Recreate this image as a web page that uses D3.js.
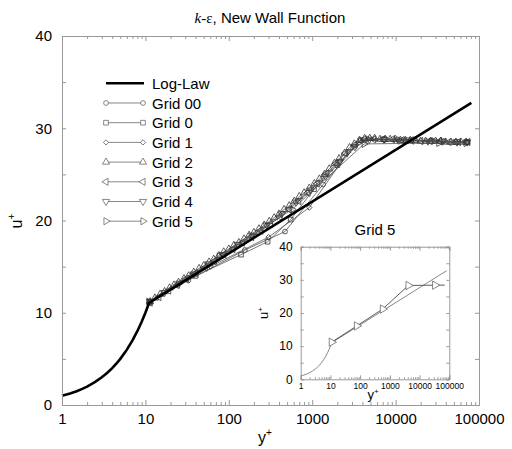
<!doctype html>
<html>
<head>
<meta charset="utf-8">
<title>k-e, New Wall Function</title>
<script src="https://d3js.org/d3.v7.min.js"></script>
<style>
  body { margin: 0; background: #fff; }
  text { font-family: "Liberation Sans", Arial, sans-serif; fill: #000; }
  .domain { stroke: #999; }
  .tick line { stroke: #999; }
</style>
</head>
<body>
<svg id="chart" width="512" height="449"></svg>
<script>
// log-law reference curve (u+ = y+ in the sublayer, then log law)
const lawYPlus = [1, 1.25, 1.5, 1.75, 2, 2.5, 3, 3.5, 4, 4.5, 5, 6, 7, 8, 9, 10, 11.06, 81000];
const lawUPlus = [1, 1.25, 1.5, 1.75, 2, 2.5, 3, 3.5, 4, 4.5, 5, 6, 7, 8, 9, 10, 11.06, 32.75];

// [y+, u+] for each grid
const grid00 = [[11.4,11.2],[32.7,13.5],[156,16.8],[472,18.8],[1350,23.9],[3800,28.7],[10500,28.8],[29000,28.6],[72000,28.5]];
const grid0 = [[11.4,11.2],[40,14.0],[140,16.3],[292,17.7],[552,20.1],[1050,23.4],[2000,26.0],[3800,28.7],[7300,28.8],[14000,28.7],[27000,28.6],[52000,28.5],[72000,28.5]];
const grid1 = [[11.4,11.2],[60,15.0],[300,18.2],[923,21.4],[2700,27.4],[4600,28.8],[13000,28.7],[38000,28.6],[72000,28.5]];
const grid2 = [[11.4,11.2],[13,11.6],[15,12.0],[17,12.3],[19.5,12.7],[22,13.0],[25,13.3],[29,13.7],[33,14.0],[38,14.4],
  [44,14.8],[50,15.1],[58,15.5],[66,15.8],[76,16.2],[87,16.6],[100,16.9],[115,17.3],[132,17.6],[152,18.0],
  [175,18.4],[200,18.7],[230,19.1],[265,19.5],[305,19.9],[350,20.3],[400,20.7],[460,21.2],[530,21.6],[610,22.1],
  [700,22.6],[800,23.0],[920,23.5],[1060,24.0],[1220,24.5],[1400,25.0],[1600,25.6],[1850,26.2],[2100,26.7],[2450,27.3],
  [2800,27.9],[3200,28.3],[3700,28.7],[4250,28.9],[4900,28.9],[5600,28.9],[6500,28.8],[7500,28.8],[8600,28.8],[9900,28.8],
  [11400,28.7],[13100,28.7],[15000,28.7],[17300,28.7],[19900,28.6],[22900,28.6],[26300,28.6],[30200,28.6],[34800,28.6],[40000,28.5],
  [46000,28.5],[52900,28.5],[60800,28.5],[70000,28.5]];
const grid3 = [[11.4,11.1],[14.5,11.7],[19,12.4],[24,13.0],[31,13.7],[40,14.3],[52,14.9],[67,15.6],[87,16.3],[112,16.9],
  [145,17.6],[188,18.2],[243,18.9],[315,19.6],[410,20.4],[530,21.2],[690,22.1],[890,23.0],[1150,24.0],[1500,25.1],
  [1940,26.2],[2500,27.3],[3250,28.2],[4200,28.8],[5450,28.8],[7050,28.8],[9150,28.8],[11900,28.7],[15400,28.7],[20000,28.6],
  [26000,28.6],[33700,28.6],[43700,28.5],[56700,28.5],[73500,28.5]];
const grid4 = [[11.4,11.2],[17,12.2],[25.5,13.2],[38,14.2],[57,15.3],[85,16.3],[128,17.4],[190,18.4],[285,19.5],[430,20.7],
  [640,22.0],[960,23.3],[1440,24.8],[2150,26.4],[3250,28.0],[4850,28.8],[7250,28.8],[10900,28.7],[16300,28.7],[24400,28.6],
  [36500,28.6],[54600,28.5],[72000,28.5]];
const grid5 = [[11,11.2],[77,16.1],[575,21.2],[4200,28.3],[33000,28.4],[70000,28.4]];

const gridNames = ["Grid 00", "Grid 0", "Grid 1", "Grid 2", "Grid 3", "Grid 4", "Grid 5"];
const gridData = [grid00, grid0, grid1, grid2, grid3, grid4, grid5];

const yTicks = [0, 10, 20, 30, 40];
const decadeTicks = [1, 10, 100, 1000, 10000, 100000];

// marker shape per grid (symbol + rotation)
const markers = [
  {sym: d3.symbolCircle, size: 18, rot: 0},
  {sym: d3.symbolSquare, size: 22, rot: 0},
  {sym: d3.symbolSquare, size: 14, rot: 45},
  {sym: d3.symbolTriangle, size: 22, rot: 0},
  {sym: d3.symbolTriangle, size: 22, rot: -90},
  {sym: d3.symbolTriangle, size: 22, rot: 180},
  {sym: d3.symbolTriangle, size: 22, rot: 90}
];

const svg = d3.select("#chart");
const minorTicks = [];
for (let d = 1; d < 100000; d *= 10) {
  for (let k = 2; k <= 9; k++) minorTicks.push(d * k);
}

function frame(g, x, y, opt) {
  const [x0, x1] = x.range(), [y0, y1] = y.range();
  // y axes left/right, every 5 units
  const yAll = d3.range(0, 41, 5);
  g.append("g").attr("transform", `translate(${x0},0)`)
    .call(d3.axisLeft(y).tickValues(yAll).tickSize(-opt.yt).tickPadding(opt.ypad)
      .tickFormat(d => yTicks.includes(d) ? d : ""))
    .call(a => a.selectAll("text").style("font-size", opt.yfont + "px").style("font-family", null));
  g.append("g").attr("transform", `translate(${x1},0)`)
    .call(d3.axisRight(y).tickValues(yAll).tickSize(-opt.yt).tickFormat(""));
  // x axes bottom/top
  g.append("g").attr("transform", `translate(0,${y0})`)
    .call(d3.axisBottom(x).tickValues(decadeTicks).tickSize(-opt.xt).tickPadding(opt.xpad).tickFormat(d3.format("d")))
    .call(a => a.selectAll("text").style("font-size", opt.xfont + "px").style("font-family", null));
  g.append("g").attr("transform", `translate(0,${y0})`)
    .call(d3.axisBottom(x).tickValues(minorTicks).tickSize(-opt.xm).tickFormat(""))
    .call(a => a.select(".domain").remove());
  g.append("g").attr("transform", `translate(0,${y1})`)
    .call(d3.axisTop(x).tickValues(decadeTicks).tickSize(-opt.xt).tickFormat(""));
  g.append("g").attr("transform", `translate(0,${y1})`)
    .call(d3.axisTop(x).tickValues(minorTicks).tickSize(-opt.xm).tickFormat(""))
    .call(a => a.select(".domain").remove());
}

function drawSeries(g, x, y, pts, m) {
  const line = d3.line().x(d => x(d[0])).y(d => y(d[1]));
  g.append("path").attr("d", line(pts))
    .attr("fill", "none").attr("stroke", "#555").attr("stroke-width", 0.8);
  g.selectAll(null).data(pts).enter().append("path")
    .attr("d", d3.symbol().type(m.sym).size(m.size))
    .attr("transform", d => `translate(${x(d[0])},${y(d[1])}) rotate(${m.rot})`)
    .attr("fill", "none").attr("stroke", "#333").attr("stroke-width", 0.8);
}

const lawPts = lawYPlus.map((v, i) => [v, lawUPlus[i]]);

// ---- main chart
const x = d3.scaleLog().domain([1, 100000]).range([62, 479]);
const y = d3.scaleLinear().domain([0, 40]).range([405, 36]);
const main = svg.append("g");

gridData.forEach((pts, i) => drawSeries(main, x, y, pts, markers[i]));

main.append("path")
  .attr("d", d3.line().x(d => x(d[0])).y(d => y(d[1]))(lawPts))
  .attr("fill", "none").attr("stroke", "#000").attr("stroke-width", 2.6);

frame(main, x, y, {yt: 4, ypad: 10, yfont: 15, xt: 5, xm: 3, xpad: 8, xfont: 15});

// title
const title = svg.append("text").attr("x", 270).attr("y", 23).attr("text-anchor", "middle")
  .style("font-size", "15px");
title.append("tspan").text("k").style("font-family", "'Liberation Serif', serif").style("font-style", "italic");
title.append("tspan").text("-ε").style("font-family", "'Liberation Serif', serif");
title.append("tspan").text(", New Wall Function");

// axis labels
const xl = svg.append("text").attr("x", 265).attr("y", 443).attr("text-anchor", "middle").style("font-size", "16px");
xl.append("tspan").text("y");
xl.append("tspan").text("+").attr("dy", -7).style("font-size", "10px");
const yl = svg.append("text").attr("transform", "translate(22,221) rotate(-90)").attr("text-anchor", "middle")
  .style("font-size", "16px");
yl.append("tspan").text("u");
yl.append("tspan").text("+").attr("dy", -7).style("font-size", "10px");

// legend
const leg = svg.append("g");
const legY0 = 83.3, legStep = 19.7;
leg.append("line").attr("x1", 106).attr("x2", 144).attr("y1", legY0).attr("y2", legY0)
  .attr("stroke", "#000").attr("stroke-width", 2.6);
leg.append("text").attr("x", 152).attr("y", legY0 + 5.5).style("font-size", "15px").text("Log-Law");
gridNames.forEach((name, i) => {
  const ly = legY0 + legStep * (i + 1);
  leg.append("line").attr("x1", 106).attr("x2", 143).attr("y1", ly).attr("y2", ly)
    .attr("stroke", "#555").attr("stroke-width", 0.7);
  [106, 143].forEach(lx => {
    leg.append("path")
      .attr("d", d3.symbol().type(markers[i].sym).size(markers[i].size))
      .attr("transform", `translate(${lx},${ly}) rotate(${markers[i].rot})`)
      .attr("fill", "#fff").attr("stroke", "#555").attr("stroke-width", 0.7);
  });
  leg.append("text").attr("x", 152).attr("y", ly + 5.5).style("font-size", "15px").text(name);
});

// ---- inset: Grid 5
const xi = d3.scaleLog().domain([1, 100000]).range([300.7, 449.3]);
const yi = d3.scaleLinear().domain([0, 40]).range([379.3, 246.7]);
const inset = svg.append("g");
inset.append("rect").attr("x", 300.7).attr("y", 246.7).attr("width", 148.6).attr("height", 132.6).attr("fill", "#fff");
inset.append("path")
  .attr("d", d3.line().x(d => xi(d[0])).y(d => yi(d[1]))(lawPts))
  .attr("fill", "none").attr("stroke", "#555").attr("stroke-width", 0.7);
const g5line = d3.line().x(d => xi(d[0])).y(d => yi(d[1]));
inset.append("path").attr("d", g5line(grid5))
  .attr("fill", "none").attr("stroke", "#333").attr("stroke-width", 0.8);
// last point only closes the line, no marker there
inset.selectAll(null).data(grid5.slice(0, -1)).enter().append("path")
  .attr("d", d3.symbol().type(d3.symbolTriangle).size(30))
  .attr("transform", d => `translate(${xi(d[0])},${yi(d[1])}) rotate(90)`)
  .attr("fill", "#fff").attr("stroke", "#555").attr("stroke-width", 0.7);
frame(inset, xi, yi, {yt: 3, ypad: 8, yfont: 12, xt: 4, xm: 2, xpad: 4, xfont: 8.5});

inset.append("text").attr("x", 375).attr("y", 235).attr("text-anchor", "middle").style("font-size", "15px").text("Grid 5");
const xil = inset.append("text").attr("x", 373).attr("y", 399).attr("text-anchor", "middle").style("font-size", "13px");
xil.append("tspan").text("y");
xil.append("tspan").text("+").attr("dy", -5).style("font-size", "8px");
const yil = inset.append("text").attr("transform", "translate(268,313) rotate(-90)").attr("text-anchor", "middle")
  .style("font-size", "13px");
yil.append("tspan").text("u");
yil.append("tspan").text("+").attr("dy", -5).style("font-size", "8px");
</script>
</body>
</html>
